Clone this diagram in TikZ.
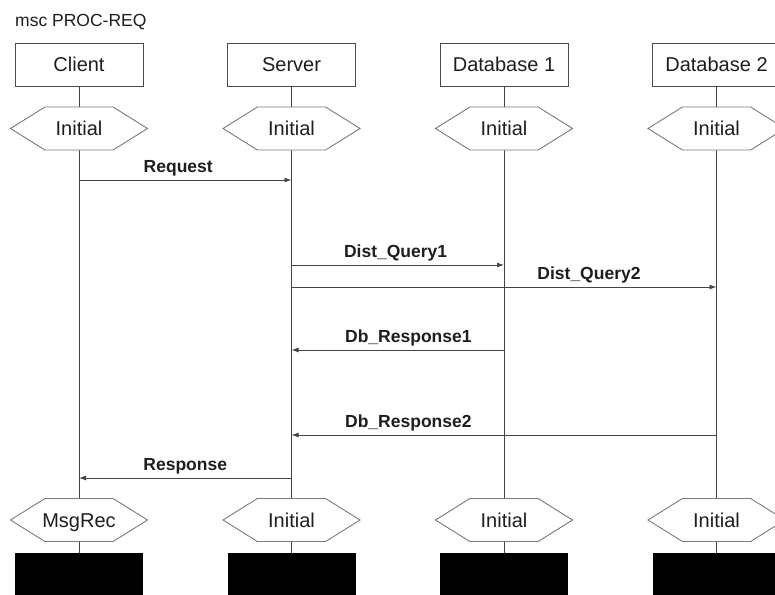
\documentclass[tikz,border=0pt]{standalone}
\usepackage{fontspec}
\setmainfont{Liberation Sans}
\usetikzlibrary{positioning,shapes.symbols,arrows.meta}
\definecolor{ink}{HTML}{1E1E1E}
\definecolor{framegrey}{HTML}{4A4A4A}
\definecolor{hexgrey}{HTML}{7A7A7A}
\definecolor{linegrey}{HTML}{444444}

\begin{document}
\begin{tikzpicture}[x=1pt,y=-1pt,font=\fontsize{20}{22}\selectfont,
    inst/.style={draw=framegrey,fill=white,line width=.9pt,minimum width=128pt,minimum height=43pt,inner sep=0pt,text=ink},
    cond/.style={signal,signal to=west and east,signal pointer angle=64,draw=hexgrey,fill=white,line width=.9pt,
      minimum width=137pt,minimum height=43pt,inner sep=0pt,text height=15pt,text depth=1pt,text=ink},
    endbox/.style={fill=black,minimum width=128pt,minimum height=50pt,inner sep=0pt,anchor=north},
    lifeline/.style={linegrey,line width=.9pt},
    msg/.style={linegrey,line width=.9pt,-{Latex[length=7pt,width=5pt]}},
    msglbl/.style={font=\fontsize{17.5}{19}\selectfont\bfseries,text=ink,anchor=base,yshift=8pt,inner sep=0pt}]
    \clip (0,0) rectangle (775,594);
    \fill[white] (0,0) rectangle (775,594);
    \node[anchor=base west,inner sep=0pt,text=ink,font=\fontsize{17.5}{19}\selectfont] (title) at (15,27) {msc PROC-REQ};
    % instances: head, stop, lifeline, conditions
    \foreach \nm/\txt/\x/\cb in {cl/Client/79/MsgRec,sv/Server/291.5/Initial,db1/Database 1/504/Initial,db2/Database 2/716.5/Initial}{
      \node[inst] (\nm) at (\x,64.5) {\txt};
      \node[endbox] (\nm-stop) at (\x,553) {};
      \draw[lifeline] (\nm.south) -- (\nm-stop.north);
      \node[cond] (\nm-init) at (\x,128.5) {\makebox[56pt]{Initial}};
      \node[cond] (\nm-fin) at (\x,520) {\makebox[56pt]{\cb}};
    }
    % messages
    \foreach \src/\dst/\y/\p/\txt in {cl/sv/180/.467/Request,sv/db1/265/.49/Dist\_Query1,sv/db2/287/.70/Dist\_Query2,
      db1/sv/350/.45/Db\_Response1,db2/sv/435/.725/Db\_Response2,sv/cl/478/.5/Response}
      \draw[msg] (\src |- 0,\y) -- node[msglbl,pos=\p] (lbl-\y) {\txt} (\dst |- 0,\y);
  \end{tikzpicture}
\end{document}
